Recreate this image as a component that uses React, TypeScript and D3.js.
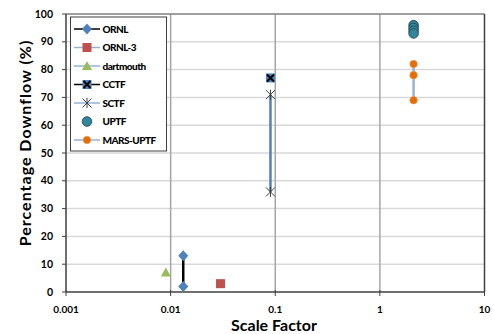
import React from 'react';
import * as d3 from 'd3';

// chart data
const ornlX = [0.0132, 0.0132];
const ornlY = [13, 2];
const ornl3X = [0.03];
const ornl3Y = [3];
const dartmouthX = [0.009];
const dartmouthY = [7];
const cctfX = [0.09];
const cctfY = [77];
const sctfX = [0.09, 0.09];
const sctfY = [71, 36];
const uptfX = [2.1, 2.1, 2.1, 2.1];
const uptfY = [96, 95, 94, 93];
const marsX = [2.1, 2.1, 2.1];
const marsY = [82, 78, 69];

const xTicks = [0.001, 0.01, 0.1, 1, 10];
const xTickLabels = ['0.001', '0.01', '0.1', '1', '10'];
const yTicks = [0, 10, 20, 30, 40, 50, 60, 70, 80, 90, 100];
const legendNames = ['ORNL', 'ORNL-3', 'dartmouth', 'CCTF', 'SCTF', 'UPTF', 'MARS-UPTF'];

const W = 494;
const H = 334;
const margin = { top: 14, right: 9.5, bottom: 42, left: 66 };
const FONT = 'Lato, "Open Sans", sans-serif';

const BLUE = '#4F81BD';
const LIGHTBLUE = '#95B3D7';
const RED = '#C0504D';
const GREEN = '#9BBB59';
const TEAL = '#31859C';
const ORANGE = '#E46C0A';

const x = d3.scaleLog().domain([0.001, 10]).range([margin.left, W - margin.right]);
const y = d3.scaleLinear().domain([0, 100]).range([H - margin.bottom, margin.top]);

const zip = (xs: number[], ys: number[]) => xs.map((v, i) => [v, ys[i]] as [number, number]);
const line = d3.line<[number, number]>().x((d) => x(d[0])).y((d) => y(d[1]));

// marker drawing, cx/cy in pixels
const marker = (kind: string, cx: number, cy: number, key: string | number) => {
  switch (kind) {
    case 'ORNL':
      return <path key={key} d={`M${cx},${cy - 5.5}L${cx + 5},${cy}L${cx},${cy + 5.5}L${cx - 5},${cy}Z`} fill={BLUE} />;
    case 'ORNL-3':
      return <rect key={key} x={cx - 4.5} y={cy - 4.5} width={9} height={9} fill={RED} />;
    case 'dartmouth':
      return <path key={key} d={`M${cx},${cy - 5}L${cx + 5},${cy + 4}L${cx - 5},${cy + 4}Z`} fill={GREEN} />;
    case 'CCTF':
      return (
        <g key={key}>
          <rect x={cx - 4.5} y={cy - 4.5} width={9} height={9} fill={BLUE} />
          <path d={`M${cx - 3.5},${cy - 3.5}L${cx + 3.5},${cy + 3.5}M${cx + 3.5},${cy - 3.5}L${cx - 3.5},${cy + 3.5}`} stroke="#000" strokeWidth={2} />
        </g>
      );
    case 'SCTF':
      return (
        <path key={key} d={`M${cx - 4.5},${cy - 4.5}L${cx + 4.5},${cy + 4.5}M${cx + 4.5},${cy - 4.5}L${cx - 4.5},${cy + 4.5}M${cx},${cy - 5}L${cx},${cy + 5}`} stroke="#404040" strokeWidth={1} />
      );
    case 'UPTF':
      return <circle key={key} cx={cx} cy={cy} r={4.8} fill={TEAL} stroke="#1f3f48" strokeWidth={0.8} />;
    default:
      return <circle key={key} cx={cx} cy={cy} r={3.8} fill={ORANGE} stroke="#f0a060" strokeWidth={0.6} />;
  }
};

const legendLine: Record<string, string | null> = {
  ORNL: '#000',
  'ORNL-3': LIGHTBLUE,
  dartmouth: LIGHTBLUE,
  CCTF: '#000',
  SCTF: LIGHTBLUE,
  UPTF: null,
  'MARS-UPTF': LIGHTBLUE,
};

const App = () => {
  const [x0, x1] = x.range();
  const [y0, y1] = y.range();

  return (
    <svg width={W} height={H} style={{ position: 'absolute', left: 0, top: 0, background: '#fff' }}>
      {/* grid */}
      {yTicks.slice(1, -1).map((t) => (
        <line key={'gy' + t} x1={x0} x2={x1} y1={y(t)} y2={y(t)} stroke="#d9d9d9" strokeWidth={1.5} />
      ))}
      {xTicks.slice(1, -1).map((t) => (
        <line key={'gx' + t} x1={x(t)} x2={x(t)} y1={y0} y2={y1} stroke="#a6a6a6" strokeWidth={1.5} />
      ))}
      {/* frame */}
      <line x1={x0} x2={x1} y1={y1} y2={y1} stroke="#808080" strokeWidth={1.5} />
      <line x1={x1} x2={x1} y1={y1} y2={y0} stroke="#404040" strokeWidth={1.5} />
      <line x1={x0} x2={x0} y1={y1} y2={y0} stroke="#404040" strokeWidth={1.5} />
      <line x1={x0} x2={x1} y1={y0} y2={y0} stroke="#404040" strokeWidth={1.5} />
      {/* y ticks */}
      {yTicks.map((t) => (
        <g key={'ty' + t}>
          <line x1={x0 - 4} x2={x0} y1={y(t)} y2={y(t)} stroke="#404040" strokeWidth={1} />
          <text x={x0 - 13} y={y(t) + 3.5} textAnchor="end" fontFamily={FONT} fontWeight="bold" fontSize={10.5} fill="#000">
            {t}
          </text>
        </g>
      ))}
      {/* x ticks */}
      {xTicks.map((t, i) => (
        <g key={'tx' + t}>
          <line x1={x(t)} x2={x(t)} y1={y0 - 2} y2={y0 + 4} stroke="#404040" strokeWidth={1} />
          <text x={x(t)} y={y0 + 21} textAnchor="middle" fontFamily={FONT} fontWeight="bold" fontSize={10} fill="#000">
            {xTickLabels[i]}
          </text>
        </g>
      ))}
      {/* axis titles */}
      <text x={274} y={331} textAnchor="middle" fontFamily={FONT} fontWeight="bold" fontSize={16} fill="#000">
        Scale Factor
      </text>
      <text transform="translate(31,143) rotate(-90)" textAnchor="middle" fontFamily={FONT} fontWeight="bold" fontSize={16} letterSpacing={1} fill="#000">
        Percentage Downflow (%)
      </text>

      {/* series lines */}
      <path d={line(zip(ornlX, ornlY)) || ''} stroke="#000" strokeWidth={2.5} fill="none" />
      <path d={line(zip(sctfX, sctfY)) || ''} stroke={BLUE} strokeWidth={2.5} fill="none" />
      <path d={line(zip(marsX, marsY)) || ''} stroke={LIGHTBLUE} strokeWidth={2.5} fill="none" />

      {/* markers */}
      {zip(ornlX, ornlY).map((d, i) => marker('ORNL', x(d[0]), y(d[1]), 'o' + i))}
      {zip(ornl3X, ornl3Y).map((d, i) => marker('ORNL-3', x(d[0]), y(d[1]), 'o3' + i))}
      {zip(dartmouthX, dartmouthY).map((d, i) => marker('dartmouth', x(d[0]), y(d[1]), 'd' + i))}
      {zip(sctfX, sctfY).map((d, i) => marker('SCTF', x(d[0]), y(d[1]), 's' + i))}
      {zip(cctfX, cctfY).map((d, i) => marker('CCTF', x(d[0]), y(d[1]), 'c' + i))}
      {zip(uptfX, uptfY).map((d, i) => marker('UPTF', x(d[0]), y(d[1]), 'u' + i))}
      {zip(marsX, marsY).map((d, i) => marker('MARS-UPTF', x(d[0]), y(d[1]), 'm' + i))}

      {/* legend */}
      <rect x={70.5} y={17} width={96} height={134} fill="#fff" stroke="#404040" strokeWidth={1} />
      {legendNames.map((name, i) => {
        const ly = 29 + i * 18.5;
        const col = legendLine[name];
        return (
          <g key={'lg' + name}>
            {col && <line x1={74} x2={100} y1={ly} y2={ly} stroke={col} strokeWidth={1.5} />}
            {marker(name, 87, ly, 'lm' + i)}
            <text x={102.5} y={ly + 3.5} fontFamily={FONT} fontWeight="900" fontSize={10} letterSpacing={-0.5} fill="#000">
              {name}
            </text>
          </g>
        );
      })}
    </svg>
  );
};

export default App;
